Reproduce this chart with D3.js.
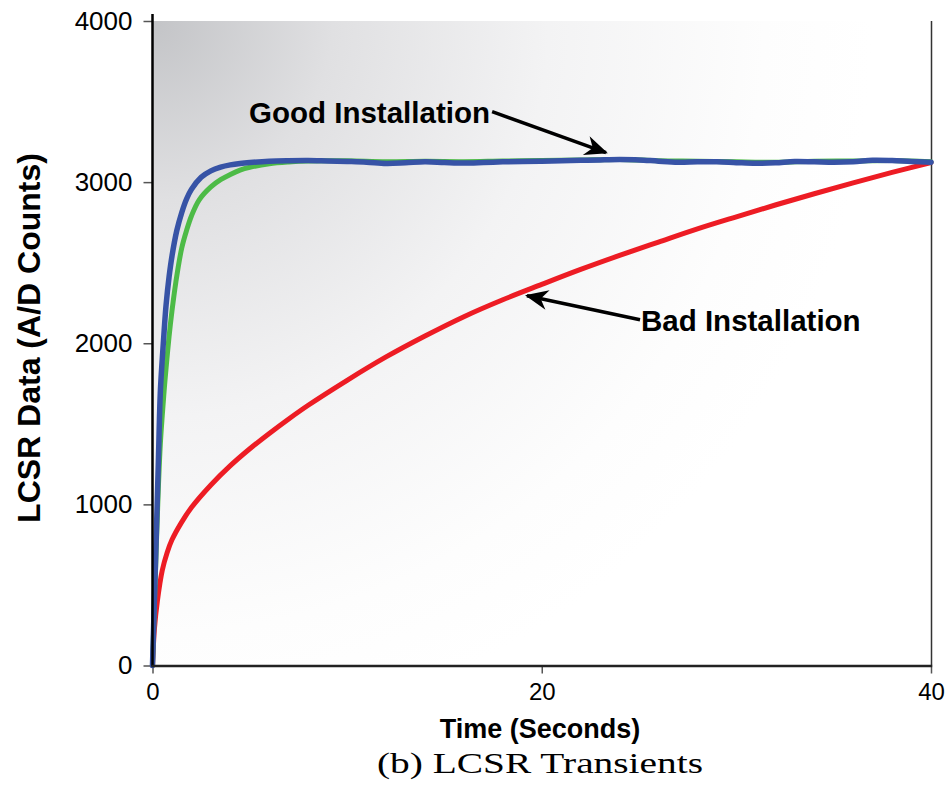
<!DOCTYPE html>
<html>
<head>
<meta charset="utf-8">
<script src="https://cdn.jsdelivr.net/npm/d3@7"></script>
<style>
  html, body { margin: 0; padding: 0; background: #ffffff; }
  svg { display: block; }
  text { font-family: "Liberation Sans", Arial, sans-serif; }
</style>
</head>
<body>
<svg id="chart" width="948" height="786"></svg>
<script>
// ---- Data ----
const xTicks = [0, 20, 40];
const yTicks = [0, 1000, 2000, 3000, 4000];

// Good installation, sensor A (blue)
const blueTime = [0,0.1,0.2,0.3,0.4,0.5,0.6,0.7,0.85,1.0,1.25,1.5,1.75,2.0,2.5,3.0,3.5,4.0,4.5,5,6,7,8,9,10,11,12,13,14,15,16,17,18,19,20,21,22,23,24,25,26,27,28,29,30,31,32,33,34,35,36,37,38,39,40];
const blueValues = [0,420,830,1260,1690,1900,2080,2240,2410,2540,2700,2810,2895,2955,3030,3070,3093,3107,3116,3122,3130,3133,3134,3131,3128,3124,3116,3120,3126,3122,3119,3122,3126,3128,3130,3133,3135,3138,3140,3138,3130,3124,3126,3126,3121,3117,3120,3128,3126,3123,3126,3136,3134,3128,3124];

// Good installation, sensor B (green)
const greenTime = [0,0.1,0.2,0.3,0.4,0.5,0.6,0.7,0.85,1.0,1.2,1.5,1.75,2.0,2.4,3.0,3.5,4.0,4.5,5,6,7,8,10,12,14,16,18,20,22,24,26,28,30,32,34,36,38,40];
const greenValues = [0,380,760,1100,1370,1550,1710,1850,2040,2200,2380,2590,2700,2790,2890,2970,3015,3048,3075,3092,3114,3125,3131,3132,3126,3129,3127,3131,3134,3138,3141,3133,3130,3126,3124,3130,3131,3134,3126];

// Bad installation (red)
const redTime = [0,0.1,0.25,0.5,0.75,1,1.5,2,3,4,5,6,7,8,10,12,14,16,18,20,22,24,26,28,30,32,34,36,38,40];
const redValues = [0,230,400,590,700,780,890,980,1120,1240,1345,1440,1530,1615,1770,1915,2045,2165,2270,2365,2458,2545,2628,2710,2785,2858,2928,2995,3060,3122];

// Annotations in data coordinates
const annotationLabels = ["Good Installation", "Bad Installation"];
const annotationTextPos = [[4.96, 3370], [25.1, 2077]];
const annotationArrowFrom = [[17.45, 3437], [25.05, 2146]];
const annotationArrowTo = [[23.3, 3183], [19.24, 2295]];

const xTitle = "Time (Seconds)";
const yTitle = "LCSR Data (A/D Counts)";
const caption = "(b) LCSR Transients";

// ---- Layout ----
const svg = d3.select("#chart");
const x = d3.scaleLinear().domain([0, 40]).range([152.5, 931]);
const y = d3.scaleLinear().domain([0, 4000]).range([665.5, 21]);

const defs = svg.append("defs");
const grad = defs.append("radialGradient")
  .attr("id", "bg").attr("gradientUnits", "userSpaceOnUse")
  .attr("cx", x(0)).attr("cy", y(4000)).attr("r", 720)
  .attr("fx", x(0)).attr("fy", y(4000));
grad.append("stop").attr("offset", "0%").attr("stop-color", "#c3c4c7");
grad.append("stop").attr("offset", "25%").attr("stop-color", "#e0e0e2");
grad.append("stop").attr("offset", "55%").attr("stop-color", "#f3f3f4");
grad.append("stop").attr("offset", "85%").attr("stop-color", "#fdfdfd");
grad.append("stop").attr("offset", "100%").attr("stop-color", "#ffffff");

defs.append("marker")
  .attr("id", "arrowhead")
  .attr("markerUnits", "userSpaceOnUse")
  .attr("viewBox", "-24 -12 27 24")
  .attr("markerWidth", 27).attr("markerHeight", 24)
  .attr("refX", 0).attr("refY", 0)
  .attr("orient", "auto")
  .append("path")
  .attr("d", "M2,0 L-21,-10 L-14,0 L-21,10 Z")
  .attr("fill", "#000");

// plot background
svg.append("rect")
  .attr("x", x(0)).attr("y", y(4000))
  .attr("width", x(40) - x(0)).attr("height", y(0) - y(4000))
  .attr("fill", "url(#bg)");

// right border
svg.append("line")
  .attr("x1", x(40) + 0.5).attr("x2", x(40) + 0.5)
  .attr("y1", y(4000)).attr("y2", y(0))
  .attr("stroke", "#333").attr("stroke-width", 1.5);

// axes
const yAxis = d3.axisLeft(y).tickValues(yTicks).tickSize(9).tickPadding(11).tickFormat(d3.format("d"));
const gy = svg.append("g").attr("transform", `translate(${x(0)},0)`).call(yAxis);
gy.select(".domain").remove();
gy.selectAll(".tick line").attr("stroke", "#555").attr("stroke-width", 1.5);
gy.selectAll(".tick text").attr("font-size", 26).attr("fill", "#000")
  .style("font-family", '"Liberation Sans", Arial, sans-serif');

const xAxis = d3.axisBottom(x).tickValues(xTicks).tickSize(8).tickPadding(9).tickFormat(d3.format("d"));
const gx = svg.append("g").attr("transform", `translate(0,${y(0)})`).call(xAxis);
gx.select(".domain").remove();
gx.selectAll(".tick line").attr("stroke", "#555").attr("stroke-width", 1.5);
gx.selectAll(".tick text").attr("font-size", 24).attr("fill", "#000")
  .style("font-family", '"Liberation Sans", Arial, sans-serif');

// series lines
const line = d3.line().x(d => x(d[0])).y(d => y(d[1])).curve(d3.curveCatmullRom.alpha(0.5));
const series = [
  { t: redTime, v: redValues, color: "#ed1c24", w: 5 },
  { t: greenTime, v: greenValues, color: "#4dbb47", w: 5 },
  { t: blueTime, v: blueValues, color: "#3753a6", w: 5.5 }
];
series.forEach(s => {
  svg.append("path")
    .datum(s.t.map((t, i) => [t, s.v[i]]))
    .attr("d", line)
    .attr("fill", "none")
    .attr("stroke", s.color)
    .attr("stroke-width", s.w)
    .attr("stroke-linejoin", "round")
    .attr("stroke-linecap", "round");
});

// axis lines on top
svg.append("line")
  .attr("x1", x(0)).attr("x2", x(0))
  .attr("y1", y(4000) - 7).attr("y2", y(0) + 1)
  .attr("stroke", "#000").attr("stroke-width", 2.5);
svg.append("line")
  .attr("x1", x(0) - 1).attr("x2", x(40) + 1.2)
  .attr("y1", y(0) + 0.5).attr("y2", y(0) + 0.5)
  .attr("stroke", "#222").attr("stroke-width", 2.5);

// annotations
annotationLabels.forEach((lab, i) => {
  svg.append("text")
    .attr("x", x(annotationTextPos[i][0]))
    .attr("y", y(annotationTextPos[i][1]))
    .attr("font-size", 29.5).attr("font-weight", "bold").attr("fill", "#000")
    .text(lab);
  svg.append("line")
    .attr("x1", x(annotationArrowFrom[i][0])).attr("y1", y(annotationArrowFrom[i][1]))
    .attr("x2", x(annotationArrowTo[i][0])).attr("y2", y(annotationArrowTo[i][1]))
    .attr("stroke", "#000").attr("stroke-width", 3.5)
    .attr("marker-end", "url(#arrowhead)");
});

// titles
svg.append("text")
  .attr("x", 540).attr("y", 738)
  .attr("text-anchor", "middle")
  .attr("font-size", 27).attr("font-weight", "bold")
  .text(xTitle);

svg.append("text")
  .attr("transform", "translate(40,338) rotate(-90)")
  .attr("text-anchor", "middle")
  .attr("font-size", 32).attr("font-weight", "bold")
  .text(yTitle);

svg.append("text")
  .attr("x", 540).attr("y", 773)
  .attr("text-anchor", "middle")
  .attr("font-size", 30)
  .style("font-family", '"Liberation Serif", "Times New Roman", serif')
  .attr("textLength", 326).attr("lengthAdjust", "spacingAndGlyphs")
  .text(caption);
</script>
</body>
</html>
